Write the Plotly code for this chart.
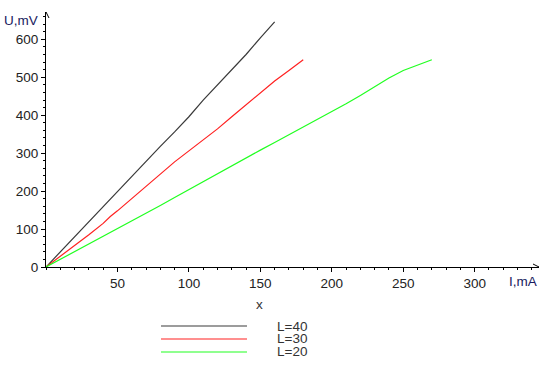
import plotly.graph_objects as go

# Data
I_40 = [0, 10, 20, 30, 40, 50, 60, 70, 80, 90, 100, 110, 120, 130, 140, 150, 160]
U_40 = [0, 40, 80, 120, 160, 200, 240, 278, 318, 356, 396, 440, 480, 520, 560, 604, 646]

I_30 = [0, 10, 20, 30, 40, 45, 50, 60, 70, 80, 90, 100, 110, 120, 130, 140, 150, 160, 170, 180]
U_30 = [0, 28, 57, 85, 115, 133, 148, 180, 212, 245, 277, 306, 335, 364, 396, 428, 460, 490, 518, 546]

I_20 = [0, 10, 20, 30, 40, 50, 60, 70, 80, 90, 100, 110, 120, 130, 140, 150, 160, 170,
        180, 190, 200, 210, 220, 230, 240, 250, 260, 270]
U_20 = [0, 20, 40, 60, 80, 100, 120, 140, 162, 183, 204, 226, 247, 268, 288, 308, 328, 348,
        368, 390, 410, 430, 452, 475, 498, 518, 533, 546]

series = [
    ("L=40", I_40, U_40, "#3a3a3a"),
    ("L=30", I_30, U_30, "#ff2020"),
    ("L=20", I_20, U_20, "#20ff20"),
]

x_ticks = [50, 100, 150, 200, 250, 300]
y_ticks = [0, 100, 200, 300, 400, 500, 600]
x_max = 345
y_max = 672

fig = go.Figure()
for name, xs, ys, col in series:
    fig.add_trace(go.Scatter(x=xs, y=ys, mode="lines", name=name,
                             line=dict(color=col, width=1.2), showlegend=False))

font = dict(family="Liberation Sans, Arial, sans-serif", size=13.5, color="#222222")

fig.update_layout(
    width=549, height=368,
    margin=dict(l=46, r=10, t=12, b=101),
    paper_bgcolor="white", plot_bgcolor="white",
    font=font,
    xaxis=dict(range=[0, x_max], tickmode="array", tickvals=x_ticks,
               ticktext=[str(v) for v in x_ticks],
               showgrid=False, zeroline=False, showline=True, linecolor="black",
               linewidth=1, ticks="outside", ticklen=4, tickcolor="black",
               minor=dict(tickmode="linear", tick0=0, dtick=10, ticks="outside",
                          ticklen=2, tickcolor="black", showgrid=False),
               fixedrange=True),
    yaxis=dict(range=[0, y_max], tickmode="array", tickvals=y_ticks,
               ticktext=[str(v) for v in y_ticks],
               showgrid=False, zeroline=False, showline=True, linecolor="black",
               linewidth=1, ticks="outside", ticklen=4, tickcolor="black",
               minor=dict(tickmode="linear", tick0=0, dtick=20, ticks="outside",
                          ticklen=2, tickcolor="black", showgrid=False),
               fixedrange=True),
)

# axis arrows
fig.add_shape(type="path", xref="x", yref="y", xsizemode="pixel", ysizemode="pixel",
              xanchor=x_max, yanchor=0, path="M -6 -3 L 0 0 L -6 3",
              line=dict(color="black", width=1))
fig.add_shape(type="path", xref="x", yref="y", xsizemode="pixel", ysizemode="pixel",
              xanchor=0, yanchor=y_max, path="M -3 -6 L 0 0 L 3 -6",
              line=dict(color="black", width=1))

# axis titles
fig.add_annotation(text="U,mV", xref="paper", yref="paper", x=-0.0507, y=0.9686,
                   xanchor="center", yanchor="middle",
                   showarrow=False, font=dict(size=13.5, color="#1a1a60"))
fig.add_annotation(text="I,mA", xref="paper", yref="paper", x=0.9675, y=-0.0588,
                   xanchor="center", yanchor="middle",
                   showarrow=False, font=dict(size=13.5, color="#1a1a60"))
fig.add_annotation(text="x", xref="paper", yref="paper", x=0.434, y=-0.149,
                   xanchor="center", yanchor="middle",
                   showarrow=False, font=dict(size=13.5, color="#333333"))

# manual legend
leg_y = [-0.2314, -0.2824, -0.3333]
lab_y = [-0.2314, -0.2804, -0.3333]
for (name, xs, ys, col), ly, ty in zip(series, leg_y, lab_y):
    fig.add_shape(type="line", xref="paper", yref="paper", x0=0.2333, x1=0.4077,
                  y0=ly, y1=ly, line=dict(color=col, width=1.2))
    fig.add_annotation(text=name, xref="paper", yref="paper", x=0.4645, y=ty,
                       xanchor="left", yanchor="middle", showarrow=False,
                       font=dict(size=13.5, color="#333333"))

fig.write_html("out.html")
